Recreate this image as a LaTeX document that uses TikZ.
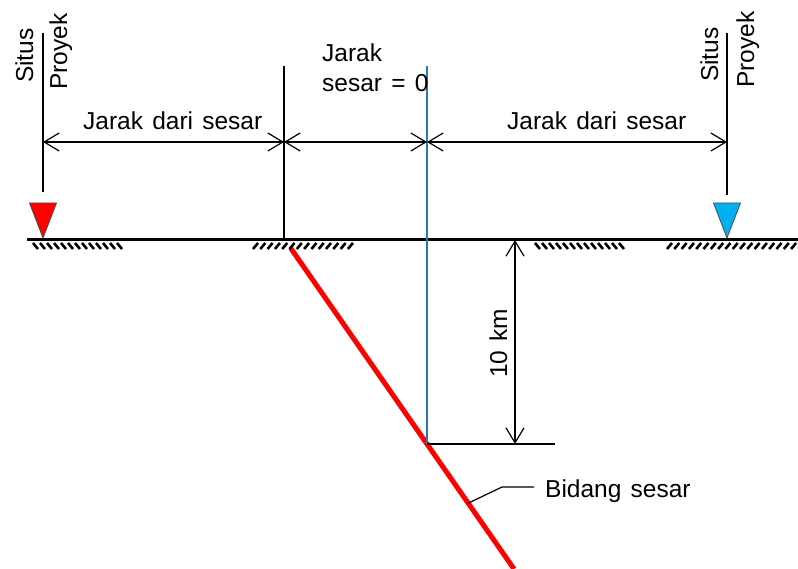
\documentclass[tikz,border=0pt]{standalone}
\usepackage{fontspec}
\setmainfont[WordSpace=1.35]{Liberation Sans}
\usetikzlibrary{arrows.meta,calc}
\definecolor{refblue}{RGB}{46,117,182}
\definecolor{sitecyan}{RGB}{0,176,240}
\tikzstyle{thinline}=[draw,line width=1.3pt]
\tikzstyle{dimline}=[draw,line width=1.2pt,{Straight Barb[length=15pt,width=18pt]}-{Straight Barb[length=15pt,width=18pt]}]
\tikzstyle{ground}=[draw,line width=3pt]
\tikzstyle{hatch}=[draw,line width=2.6pt]
\tikzstyle{fault}=[draw,red,line width=5pt]
\tikzstyle{site}=[draw=black!70,line width=0.8pt]
\tikzstyle{txt}=[font=\fontsize{24.5}{30}\selectfont,inner sep=0pt,anchor=base west]

\begin{document}
\begin{tikzpicture}[x=1pt,y=-1pt]
    \useasboundingbox (0,0) rectangle (798,569);
    % First the points of the section
    \foreach \px/\py/\name in {27/240/gL, 798/240/gR, 43/33/sLtop, 43/192/sLbot,
        43/238/sLtip, 284/66/fTop, 284/240/fGnd, 427/66/zTop, 427/444/foot,
        727/33/sRtop, 727/195/sRbot, 727/238/sRtip, 515/240/kTop, 515/444/kBot,
        555/444/kEnd, 285/240/pTop, 514/569/pBot, 502/487/bend, 534/487/lEnd,
        43/142/d1, 284/142/d2, 427/142/d3, 727/142/d4}
        \coordinate (\name) at (\px,\py);

    % Fault plane
    \path[fault] ($(pTop)!0.025!(pBot)$) -- (pBot);
    \coordinate (lead) at ($(pTop)!0.8!(pBot)$);

    % Ground surface and hatching
    \path[ground] (gL) -- (gR);
    \foreach \x in {33,40,...,120}
        \path[hatch] (\x,243) -- ++(5,6);
    \foreach \x in {253,260.3,...,350}
        \path[hatch] (\x,249) -- ++(5,-6);
    \foreach \x in {535,542,...,624}
        \path[hatch] (\x,243) -- ++(5,6);
    \foreach \x in {667,674.3,...,800}
        \path[hatch] (\x,249) -- ++(5,-6);

    % Vertical reference lines
    \foreach \source/\dest in {sLtop/sLbot, fTop/fGnd, sRtop/sRbot}
        \path[thinline] (\source) -- (\dest);
    \path[thinline,refblue] (zTop) -- (foot);
    \path[thinline] (foot) -- (kEnd);

    % Sites
    \draw[site,fill=red] ($(sLtip)+(-13.5,-35)$) -- ++(27,0) -- (sLtip) -- cycle;
    \draw[site,fill=sitecyan] ($(sRtip)+(-13.5,-35)$) -- ++(27,0) -- (sRtip) -- cycle;

    % Distances
    \foreach \source/\dest in {d1/d2, d2/d3, d3/d4, kTop/kBot}
        \path[dimline] (\source) -- (\dest);
    \draw[line width=1.2pt] (lead) -- (bend) -- (lEnd);

    % Labels
    \node[txt] (distL) at (83,130) {Jarak dari sesar};
    \node[txt] (distR) at (507,130) {Jarak dari sesar};
    \node[txt,align=left] (distZ) at (322,92) {Jarak\\sesar = 0};
    \node[txt,rotate=90] (depth) at (507,378) {10 km};
    \node[txt] (plane) at (545,497) {Bidang sesar};
    \node[txt,rotate=90] (situsL) at (33,83) {Situs};
    \node[txt,rotate=90] (proyekL) at (67,90) {Proyek};
    \node[txt,rotate=90] (situsR) at (718,82) {Situs};
    \node[txt,rotate=90] (proyekR) at (754,88) {Proyek};
\end{tikzpicture}
\end{document}
